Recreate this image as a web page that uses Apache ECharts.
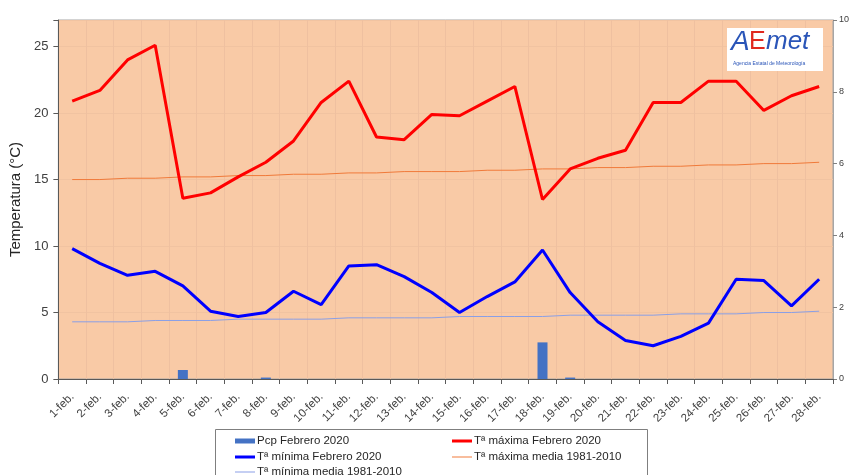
<!DOCTYPE html>
<html><head><meta charset="utf-8">
<script src="https://cdn.jsdelivr.net/npm/echarts@6/dist/echarts.min.js"></script>
<style>html,body{margin:0;padding:0;background:#fff}#c{width:852px;height:475px}</style>
</head><body><div id="c"></div>
<script>
const days = ['1-feb.','2-feb.','3-feb.','4-feb.','5-feb.','6-feb.','7-feb.','8-feb.','9-feb.','10-feb.','11-feb.','12-feb.','13-feb.','14-feb.','15-feb.','16-feb.','17-feb.','18-feb.','19-feb.','20-feb.','21-feb.','22-feb.','23-feb.','24-feb.','25-feb.','26-feb.','27-feb.','28-feb.'];
const pcp = [0,0,0,0,0.25,0,0,0.04,0,0,0,0,0,0,0,0,0,1.02,0.04,0,0,0,0,0,0,0,0,0];
const tmax = [20.9,21.7,24.0,25.1,13.6,14.0,15.2,16.3,17.9,20.8,22.4,18.2,18.0,19.9,19.8,20.9,22.0,13.5,15.8,16.6,17.2,20.8,20.8,22.4,22.4,20.2,21.3,22.0];
const tmin = [9.8,8.7,7.8,8.1,7.0,5.1,4.7,5.0,6.6,5.6,8.5,8.6,7.7,6.5,5.0,6.2,7.3,9.7,6.5,4.3,2.9,2.5,3.2,4.2,7.5,7.4,5.5,7.5];
const tmaxMedia = [15.0,15.0,15.1,15.1,15.2,15.2,15.3,15.3,15.4,15.4,15.5,15.5,15.6,15.6,15.6,15.7,15.7,15.8,15.8,15.9,15.9,16.0,16.0,16.1,16.1,16.2,16.2,16.3];
const tminMedia = [4.3,4.3,4.3,4.4,4.4,4.4,4.5,4.5,4.5,4.5,4.6,4.6,4.6,4.6,4.7,4.7,4.7,4.7,4.8,4.8,4.8,4.8,4.9,4.9,4.9,5.0,5.0,5.1];
const leftTicks = [0,5,10,15,20,25];
const rightTicks = [0,2,4,6,8,10];

const F = 'Liberation Sans, Arial, sans-serif';
const legText = {fontSize:11.5,color:'#262626',fontFamily:F,padding:[0,0,0,-3]};
function leg(name,left,top,h){
  return {left:left,top:top,itemWidth:20,itemHeight:h,icon:'rect',padding:0,textStyle:legText,data:[{name:name,icon:'rect'}]};
}
const chart = echarts.init(document.getElementById('c'));
chart.setOption({
  animation:false,
  textStyle:{fontFamily:F},
  grid:{left:58,right:19,top:20,bottom:96,show:true,backgroundColor:'#F9CAA6',borderColor:'#a6a6a6',borderWidth:1},
  xAxis:{type:'category',data:days,boundaryGap:true,
    axisLine:{lineStyle:{color:'#595959',width:1}},
    axisTick:{show:true,alignWithLabel:false,length:5,lineStyle:{color:'#595959'}},
    axisLabel:{rotate:45,fontSize:11.5,color:'#404040',fontFamily:F,margin:16,interval:0},
    splitLine:{show:true,interval:0,lineStyle:{color:'#EFC0A0',width:1}}},
  yAxis:[
    {type:'value',min:0,max:27,interval:5,name:'Temperatura (°C)',nameLocation:'middle',nameGap:32,
     nameTextStyle:{fontSize:15,color:'#262626',fontFamily:F},
     axisLine:{show:true,lineStyle:{color:'#595959'}},axisTick:{show:true,length:5,lineStyle:{color:'#595959'}},
     axisLabel:{fontSize:13,color:'#404040',fontFamily:F,margin:10,formatter:v=>leftTicks.includes(v)?String(v):''},
     splitLine:{show:true,lineStyle:{color:'#F1C3A1'}}},
    {type:'value',min:0,max:10,interval:2,position:'right',
     axisLine:{show:true,lineStyle:{color:'#a6a6a6'}},axisTick:{show:true,length:4,lineStyle:{color:'#808080'}},
     axisLabel:{fontSize:9,color:'#404040',fontFamily:F,margin:6,formatter:v=>rightTicks.includes(v)?String(v):''},
     splitLine:{show:false}}
  ],
  legend:[
    leg('Pcp Febrero 2020',235,435,5),
    leg('Tª mínima Febrero 2020',235,451,3),
    leg('Tª mínima media 1981-2010',235,466,1),
    leg('Tª máxima Febrero 2020',452,435,3),
    leg('Tª máxima media 1981-2010',452,451,1)
  ],
  graphic:[
    {type:'rect',left:213,top:427,z:100,shape:{width:432,height:60},style:{fill:'none',stroke:'#7f7f7f',lineWidth:1}},
    {type:'rect',left:727,top:28,z:100,shape:{width:96,height:43},style:{fill:'#ffffff'}},
    {type:'text',left:731,top:28,z:101,style:{text:'A',fontSize:28,fontStyle:'italic',fill:'#2a55b8',fontFamily:F}},
    {type:'text',left:749,top:30,z:101,style:{text:'E',fontSize:25,fill:'#e0281e',fontFamily:F}},
    {type:'text',left:766,top:29,z:101,style:{text:'met',fontSize:26,fontStyle:'italic',fill:'#2a55b8',fontFamily:F}},
    {type:'text',left:733,top:61,z:101,style:{text:'Agencia Estatal de Meteorología',fontSize:5,fill:'#2a55b8',fontFamily:F}}
  ],
  series:[
    {name:'Pcp Febrero 2020',type:'bar',yAxisIndex:1,data:pcp,barWidth:10,itemStyle:{color:'#4472C4'},z:2},
    {name:'Tª máxima Febrero 2020',type:'line',data:tmax,symbol:'none',lineStyle:{color:'#FF0000',width:3},itemStyle:{color:'#FF0000'},z:5},
    {name:'Tª mínima Febrero 2020',type:'line',data:tmin,symbol:'none',lineStyle:{color:'#0000FF',width:3},itemStyle:{color:'#0000FF'},z:5},
    {name:'Tª máxima media 1981-2010',type:'line',data:tmaxMedia,symbol:'none',lineStyle:{color:'#F07A3A',width:1},itemStyle:{color:'#F07A3A'},z:4},
    {name:'Tª mínima media 1981-2010',type:'line',data:tminMedia,symbol:'none',lineStyle:{color:'#8A9FE6',width:1},itemStyle:{color:'#8A9FE6'},z:4}
  ]
});
</script></body></html>
